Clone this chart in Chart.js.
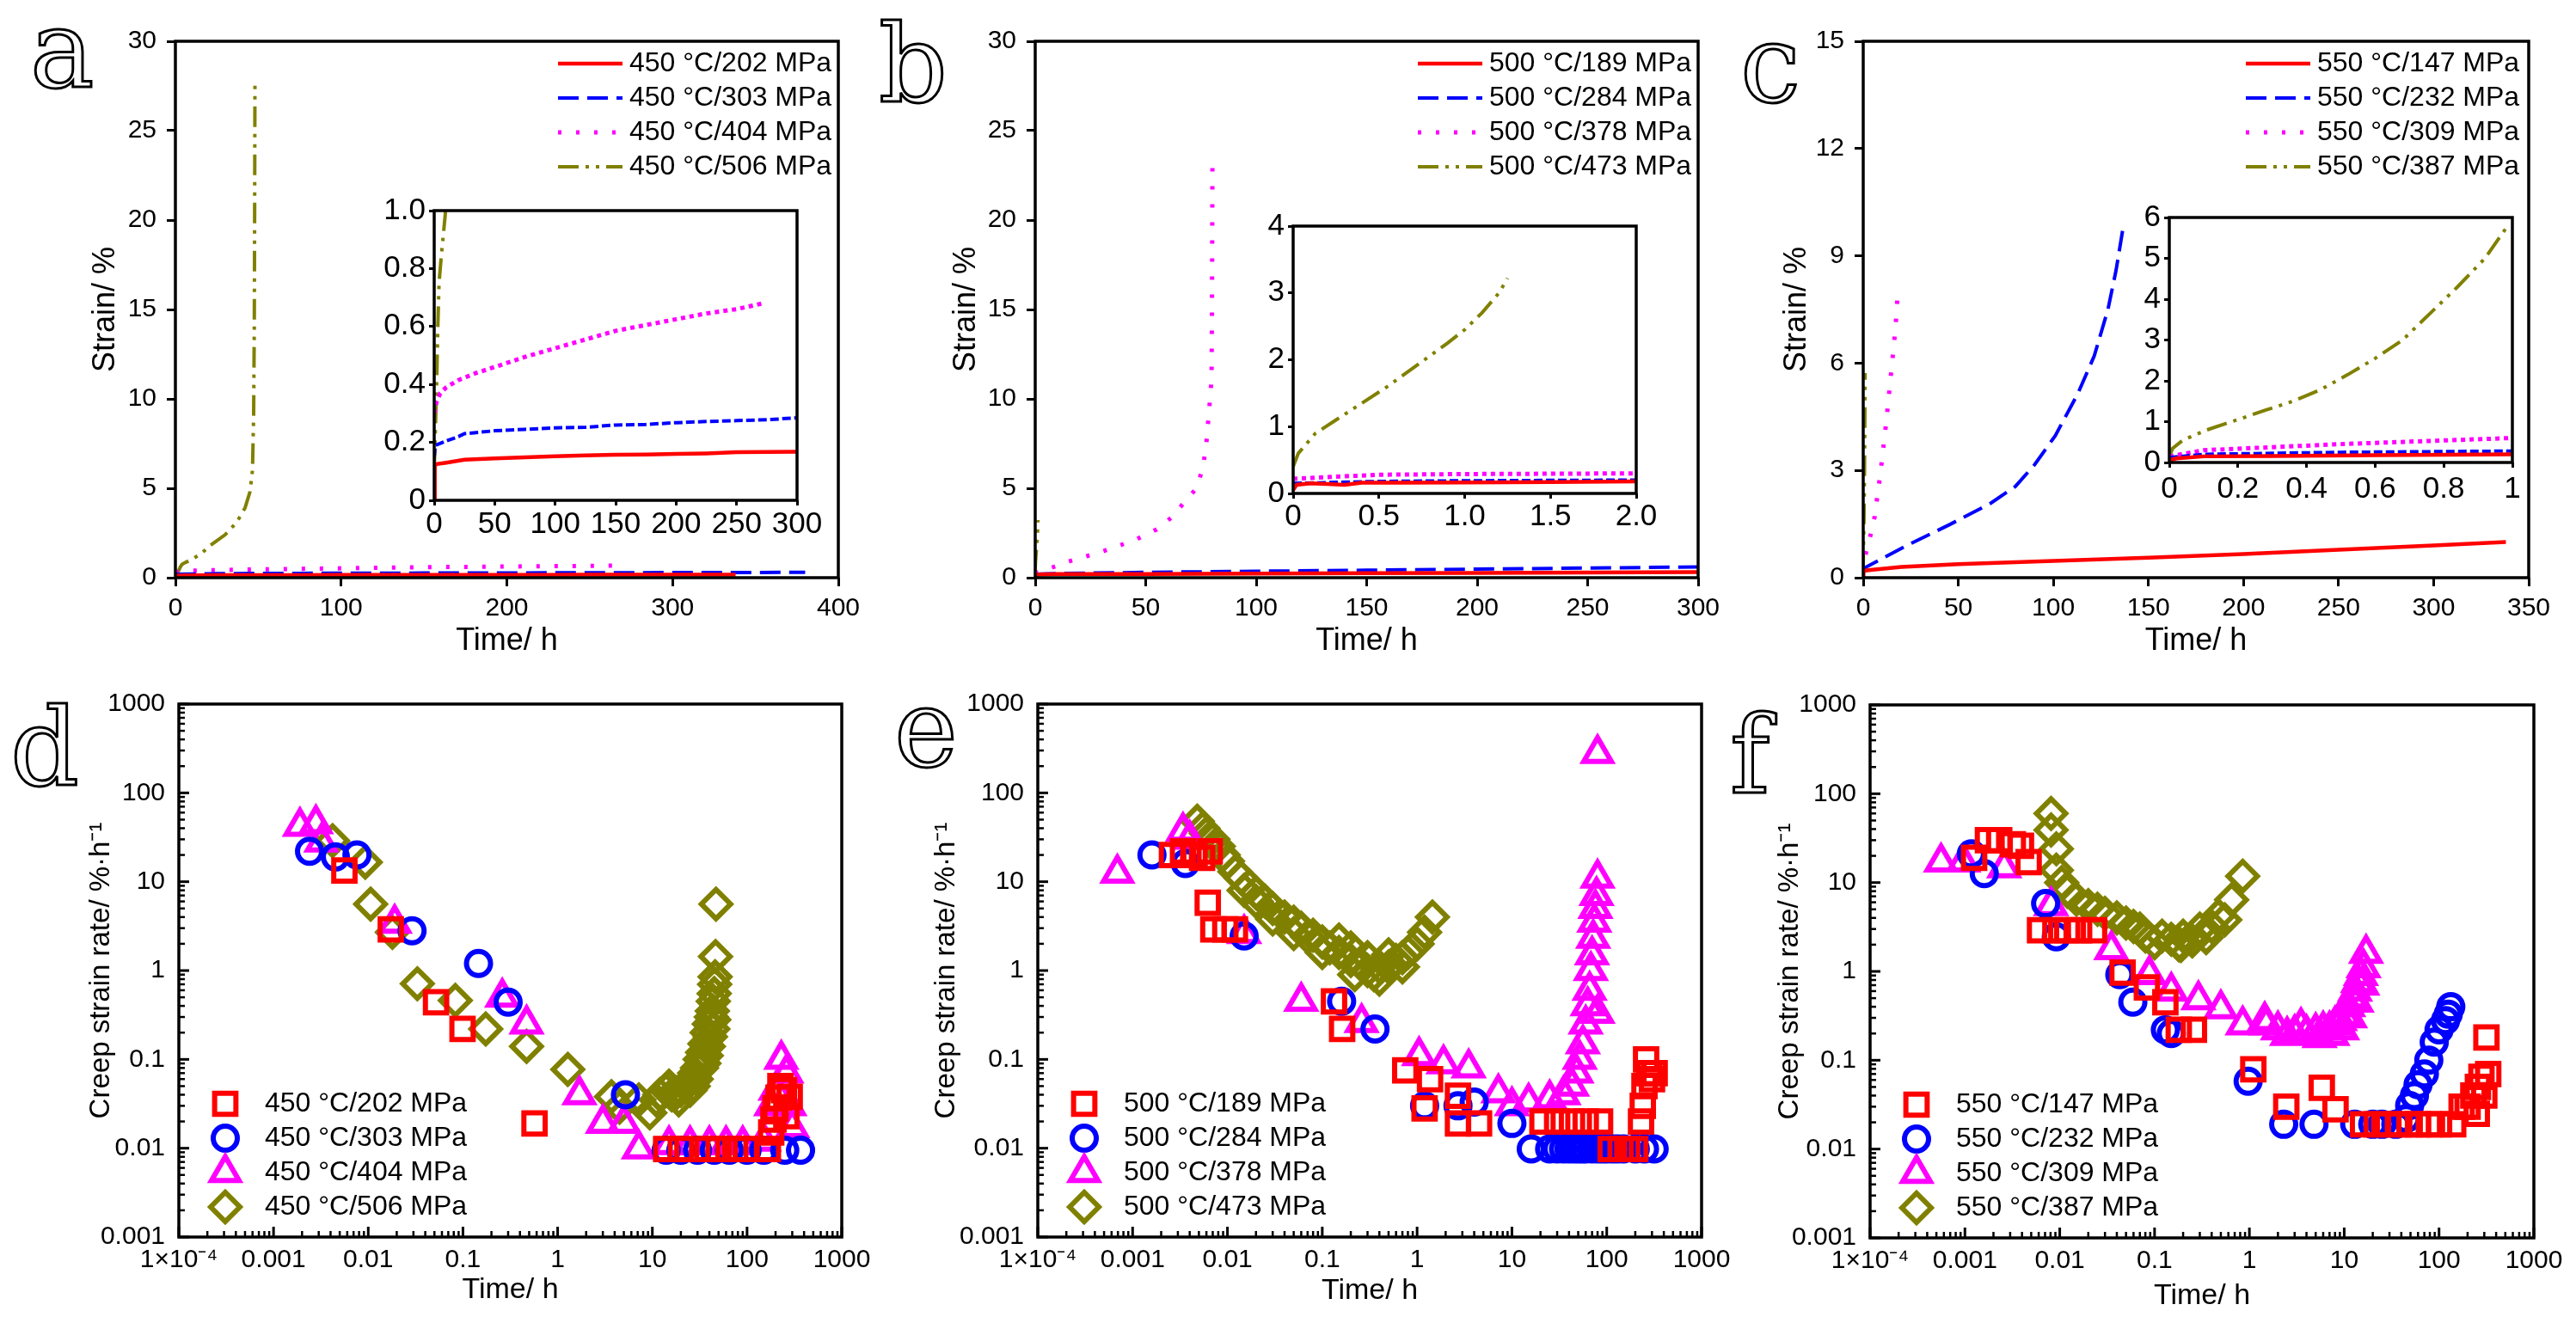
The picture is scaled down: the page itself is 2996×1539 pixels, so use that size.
<!DOCTYPE html>
<html>
<head>
<meta charset="utf-8">
<title>Creep strain and creep strain rate</title>
<script src="https://cdn.jsdelivr.net/npm/chart.js@4.4.1/dist/chart.umd.min.js"></script>
<style>
body { margin: 0; width: 2996px; height: 1539px; background: #fff; position: relative; overflow: hidden; }
canvas { position: absolute; }
.tag { position: absolute; font-family: "DejaVu Serif", serif; font-size: 125px; line-height: 1; color: #fff; -webkit-text-stroke: 3px #000; }
</style>
</head>
<body>
<div class="tag" style="left:35px;top:-5px">a</div>
<div class="tag" style="left:1022px;top:12px">b</div>
<div class="tag" style="left:2024px;top:12px">c</div>
<div class="tag" style="left:12px;top:807px">d</div>
<div class="tag" style="left:1040px;top:785px">e</div>
<div class="tag" style="left:2012px;top:816px">f</div>
<script>
// strain vs time (h), 450 °C
var a202 = [[0,0],[0.5,0.12],[2,0.125],[10,0.13],[25,0.14],[50,0.145],[75,0.148],[100,0.152],[125,0.155],[150,0.157],[175,0.158],[200,0.16],[225,0.162],[250,0.166],[275,0.167],[300,0.168],[338,0.17]];
var a303 = [[0,0.15],[1,0.19],[10,0.205],[20,0.22],[25,0.23],[50,0.24],[75,0.245],[100,0.25],[125,0.252],[150,0.26],[175,0.262],[200,0.268],[225,0.272],[250,0.275],[275,0.278],[300,0.285],[340,0.29],[380,0.3]];
var a404 = [[0,0.3],[2,0.34],[5,0.37],[10,0.39],[20,0.415],[35,0.44],[50,0.46],[75,0.495],[100,0.525],[125,0.555],[150,0.585],[175,0.605],[200,0.625],[225,0.645],[250,0.66],[272,0.68]];
var a506 = [[0,0.1],[1,0.25],[2,0.4],[3,0.6],[4,0.75],[6,0.85],[9,0.98],[15,1.3],[21,1.8],[30,2.4],[37,3.1],[42,3.9],[45,4.8],[46.5,6],[47.2,9],[47.6,14],[47.8,20],[48,27.6]];
// 500 °C
var b189 = [[0,0.05],[0.02,0.13],[0.1,0.15],[0.2,0.14],[0.3,0.13],[0.4,0.16],[0.6,0.16],[1,0.165],[1.5,0.17],[2,0.18],[10,0.2],[50,0.21],[100,0.23],[150,0.25],[200,0.27],[250,0.29],[300,0.31]];
var b284 = [[0,0.15],[0.5,0.18],[1,0.19],[2,0.2],[10,0.23],[50,0.3],[100,0.36],[150,0.42],[200,0.48],[250,0.54],[300,0.6]];
var b378 = [[0,0.22],[0.5,0.28],[1,0.29],[2,0.3],[5,0.45],[15,0.9],[30,1.45],[45,2.1],[55,2.7],[62,3.4],[68,4.3],[73,5.0],[76,6.2],[77.5,7.6],[78.8,9.5],[79.8,11.1],[80,15],[80.2,23.3]];
var b473 = [[0,0.4],[0.03,0.6],[0.13,0.9],[0.25,1.1],[0.4,1.35],[0.55,1.6],[0.75,1.97],[0.9,2.25],[1,2.45],[1.1,2.7],[1.2,3.0],[1.25,3.22]];
// 550 °C
var c147 = [[0,0.05],[0.02,0.1],[0.1,0.15],[0.3,0.16],[0.6,0.18],[1,0.2],[5,0.22],[20,0.3],[50,0.38],[100,0.47],[150,0.56],[200,0.66],[250,0.78],[300,0.9],[338,1.0]];
var c232 = [[0,0.12],[0.1,0.2],[0.5,0.25],[1,0.28],[7,0.45],[23,0.9],[46,1.5],[67,2.08],[80,2.55],[90,3.15],[101,3.97],[113,5.16],[121.5,6.2],[128.7,7.5],[133,8.6],[136.4,9.7]];
var c309 = [[0,0.15],[0.1,0.3],[0.5,0.45],[1,0.6],[3,1.0],[6,1.7],[9,2.9],[12,4.3],[15,5.9],[17,7.0],[18.2,8.0]];
var c387 = [[0,0.15],[0.01,0.35],[0.04,0.55],[0.11,0.8],[0.2,1.05],[0.28,1.28],[0.36,1.5],[0.44,1.78],[0.52,2.15],[0.6,2.55],[0.68,3.0],[0.76,3.65],[0.84,4.3],[0.92,5.0],[0.98,5.72]];

// creep strain rate (%/h) vs time (h)
var d202 = [[0.0056,13.4],[0.0173,2.9],[0.052,0.44],[0.099,0.22],[0.57,0.019],[14,0.0098],[20,0.0098],[38,0.0098],[50,0.0098],[75,0.0098],[97,0.0098],[166,0.0098],[180,0.015],[190,0.021],[200,0.028],[215,0.037],[225,0.05],[245,0.045],[260,0.023],[282,0.038]];
var d303 = [[0.0024,22],[0.0045,19],[0.0076,20],[0.029,2.8],[0.146,1.2],[0.3,0.44],[5.2,0.04],[14,0.0095],[20,0.0095],[30,0.0095],[45,0.0095],[65,0.0095],[100,0.0095],[150,0.0095],[250,0.0095],[367,0.0095]];
var d404 = [[0.0019,42],[0.0028,45],[0.0032,28],[0.019,3.4],[0.26,0.5],[0.47,0.25],[1.7,0.04],[3,0.019],[5,0.019],[7.2,0.0098],[15,0.011],[25,0.011],[40,0.011],[60,0.011],[90,0.011],[150,0.012],[180,0.03],[200,0.045],[230,0.1],[260,0.07],[280,0.03],[300,0.017]];
var d506 = [[0.0042,29],[0.0093,16.6],[0.0106,5.6],[0.018,2.7],[0.033,0.71],[0.083,0.46],[0.174,0.22],[0.47,0.14],[1.28,0.077],[3.7,0.038],[4.5,0.029],[7.2,0.035],[9.4,0.025],[11,0.035],[12,0.04],[14,0.045],[15,0.05],[16,0.04],[18,0.042],[19,0.035],[20,0.045],[22,0.05],[24,0.055],[25,0.045],[26,0.06],[27,0.05],[28,0.07],[29,0.06],[30,0.08],[32,0.1],[33,0.08],[34,0.12],[35,0.09],[36,0.15],[37,0.11],[38,0.2],[39,0.14],[40,0.25],[41,0.18],[42,0.3],[43,0.35],[43.5,0.22],[44,0.45],[44.5,0.28],[45,0.55],[45.5,0.7],[46,0.85],[46.5,1.44],[47,5.6]];

var e189 = [[0.0026,20],[0.0034,22],[0.0045,20],[0.0054,18.6],[0.0065,22],[0.0062,5.8],[0.0071,2.9],[0.0095,2.9],[0.012,2.9],[0.133,0.45],[0.162,0.22],[0.75,0.075],[1.2,0.028],[1.37,0.06],[2.7,0.039],[2.7,0.019],[4.5,0.019],[21,0.02],[30,0.02],[43,0.02],[60,0.02],[85,0.02],[110,0.0098],[140,0.0098],[165,0.0098],[200,0.0098],[230,0.02],[240,0.03],[250,0.05],[260,0.1],[280,0.07],[300,0.06],[320,0.07]];
var e284 = [[0.0016,20],[0.0036,16],[0.015,2.45],[0.16,0.45],[0.36,0.22],[1.2,0.03],[2.7,0.03],[4,0.033],[10,0.019],[16,0.0098],[25,0.0098],[30,0.0098],[35,0.0098],[40,0.0098],[45,0.0098],[50,0.0098],[55,0.0098],[60,0.0098],[70,0.0098],[80,0.0098],[90,0.0098],[100,0.0098],[115,0.0098],[130,0.0098],[150,0.0098],[200,0.0098],[250,0.0098],[316,0.0098]];
var e378 = [[0.00069,12.5],[0.0034,37],[0.004,30],[0.015,2.6],[0.06,0.45],[0.26,0.26],[1.05,0.11],[1.9,0.089],[3.5,0.08],[7.2,0.042],[10,0.03],[15,0.033],[25,0.036],[35,0.04],[43,0.05],[48,0.07],[52,0.1],[56,0.15],[60,0.25],[63,0.4],[66,0.6],[68,1.0],[70,1.5],[72,2.3],[74,3.5],[76,5],[78,7],[80,11],[80,0.33],[80,277]];
var e473 = [[0.0048,48],[0.0055,40],[0.006,35],[0.007,30],[0.008,25],[0.009,20],[0.01,17],[0.012,13],[0.014,11],[0.015,8],[0.017,9],[0.02,7.5],[0.02,6],[0.025,6],[0.03,5],[0.03,3.8],[0.04,4],[0.05,3.5],[0.05,2.6],[0.06,3],[0.07,2.4],[0.08,2.5],[0.1,2.1],[0.1,1.6],[0.12,1.8],[0.15,1.6],[0.15,2.2],[0.2,1.3],[0.2,1.8],[0.22,0.9],[0.25,1.2],[0.3,1.0],[0.3,1.4],[0.35,0.9],[0.4,1.1],[0.4,0.8],[0.5,1.1],[0.5,1.5],[0.6,1.3],[0.7,1.4],[0.7,1.1],[0.8,1.6],[1.0,2.0],[1.2,2.7],[1.45,4.0]];

var f147 = [[0.00125,19],[0.00175,30],[0.0023,30],[0.0032,27],[0.0039,26],[0.0047,17],[0.0062,2.9],[0.009,2.9],[0.012,2.9],[0.016,2.9],[0.023,2.9],[0.046,0.97],[0.083,0.66],[0.13,0.45],[0.18,0.22],[0.26,0.22],[1.1,0.079],[2.45,0.03],[5.8,0.049],[8.1,0.028],[15.8,0.019],[22,0.019],[29,0.019],[38,0.019],[49,0.019],[60,0.019],[78,0.019],[100,0.019],[141,0.019],[173,0.03],[200,0.03],[230,0.04],[257,0.05],[280,0.065],[316,0.18],[330,0.07],[300,0.04],[250,0.025]];
var f232 = [[0.00117,21],[0.0016,12.6],[0.0071,5.8],[0.0092,2.45],[0.043,0.92],[0.059,0.45],[0.13,0.22],[0.15,0.2],[0.97,0.058],[2.3,0.019],[4.8,0.019],[12.9,0.019],[20,0.019],[25,0.019],[35,0.019],[45,0.022],[49,0.031],[55,0.04],[60,0.053],[70,0.07],[78,0.1],[89,0.16],[100,0.22],[117,0.28],[125,0.33],[133,0.4]];
var f309 = [[0.00056,17],[0.00096,17],[0.0026,14.7],[0.0081,5.5],[0.035,1.76],[0.088,0.92],[0.15,0.6],[0.29,0.48],[0.5,0.38],[0.85,0.25],[1.45,0.28],[1.5,0.25],[2,0.22],[2.5,0.19],[3,0.2],[3.5,0.24],[4,0.2],[5,0.21],[5.5,0.18],[6,0.22],[7,0.22],[7.5,0.19],[8,0.25],[9,0.28],[9.5,0.22],[10,0.32],[11,0.4],[11.5,0.3],[12,0.5],[13,0.6],[13.5,0.45],[14,0.75],[15,0.9],[15.5,0.7],[16,1.1],[17,1.6]];
var f387 = [[0.0081,60],[0.0081,39],[0.0092,24],[0.0092,13.8],[0.0105,10],[0.012,8],[0.015,6.5],[0.02,5.5],[0.025,5],[0.03,4.5],[0.04,4],[0.05,3.5],[0.06,3.2],[0.07,3],[0.08,2.5],[0.1,2.1],[0.12,2.5],[0.15,2.3],[0.18,2],[0.19,1.96],[0.2,2.5],[0.25,2.2],[0.3,3],[0.35,2.4],[0.4,3.2],[0.47,4.2],[0.55,3.8],[0.65,6.4],[0.85,11.8]];

var namesA = ['450 °C/202 MPa', '450 °C/303 MPa', '450 °C/404 MPa', '450 °C/506 MPa'];
var namesB = ['500 °C/189 MPa', '500 °C/284 MPa', '500 °C/378 MPa', '500 °C/473 MPa'];
var namesC = ['550 °C/147 MPa', '550 °C/232 MPa', '550 °C/309 MPa', '550 °C/387 MPa'];

var strain30 = ['0', '5', '10', '15', '20', '25', '30'];
var strain15 = ['0', '3', '6', '9', '12', '15'];
var hours400 = ['0', '100', '200', '300', '400'];
var hours300 = ['0', '50', '100', '150', '200', '250', '300'];
var hours350 = ['0', '50', '100', '150', '200', '250', '300', '350'];
var insetAY = ['0', '0.2', '0.4', '0.6', '0.8', '1.0'];
var insetBX = ['0', '0.5', '1.0', '1.5', '2.0'];
var insetBY = ['0', '1', '2', '3', '4'];
var insetCX = ['0', '0.2', '0.4', '0.6', '0.8', '1'];
var insetCY = ['0', '1', '2', '3', '4', '5', '6'];
var rateLabels = ['0.001', '0.01', '0.1', '1', '10', '100', '1000'];
var timeLogLabels = ['1×10⁻⁴', '0.001', '0.01', '0.1', '1', '10', '100', '1000'];

var RED = '#ff0000', BLUE = '#0000ff', PINK = '#ff00ff', OLIVE = '#808000';

Chart.defaults.font.family = '"Liberation Sans", Arial, sans-serif';
Chart.defaults.color = '#000';

function isDecade(v) {
    var e = Math.log10(v);
    return Math.abs(e - Math.round(e)) < 1e-6;
}

// box around plot area, white fill for insets, inner ticks on log axes
var frame = {
    id: 'frame',
    beforeDraw: function (chart, args, o) {
        if (!o.fill) return;
        var a = chart.chartArea, ctx = chart.ctx;
        ctx.save();
        ctx.fillStyle = '#fff';
        ctx.fillRect(a.left, a.top, a.right - a.left, a.bottom - a.top);
        ctx.restore();
    },
    afterDatasetsDraw: function (chart, args, o) {
        var a = chart.chartArea, ctx = chart.ctx;
        ctx.save();
        ctx.strokeStyle = '#000';
        ['x', 'y'].forEach(function (id) {
            var s = chart.scales[id];
            if (s.type !== 'logarithmic') return;
            s.ticks.forEach(function (t) {
                var big = isDecade(t.value);
                var len = big ? 12 : 7;
                var p = s.getPixelForValue(t.value);
                ctx.lineWidth = big ? 3 : 2.5;
                ctx.beginPath();
                if (id === 'x') { ctx.moveTo(p, a.bottom); ctx.lineTo(p, a.bottom - len); }
                else { ctx.moveTo(a.left, p); ctx.lineTo(a.left + len, p); }
                ctx.stroke();
            });
        });
        ctx.lineWidth = o.width || 3.5;
        ctx.strokeRect(a.left, a.top, a.right - a.left, a.bottom - a.top);
        ctx.restore();
    }
};

// legend drawn inside the plot area
var keyBox = {
    id: 'keyBox',
    afterDraw: function (chart, args, o) {
        if (!o.show) return;
        var a = chart.chartArea, ctx = chart.ctx;
        ctx.save();
        ctx.font = '32px "Liberation Sans", Arial, sans-serif';
        ctx.textBaseline = 'middle';
        chart.data.datasets.forEach(function (ds, i) {
            var y = a.top + o.top + i * o.step;
            if (ds.showLine === false) {
                ctx.strokeStyle = ds.pointBorderColor;
                ctx.fillStyle = 'rgba(0,0,0,0)';
                ctx.lineWidth = ds.pointBorderWidth;
                Chart.helpers.drawPoint(ctx, { pointStyle: ds.pointStyle, radius: ds.pointRadius, borderWidth: ds.pointBorderWidth, rotation: 0 }, a.left + o.mark, y);
            } else {
                ctx.strokeStyle = ds.borderColor;
                ctx.lineWidth = ds.borderWidth;
                ctx.setLineDash(ds.keyDash || ds.borderDash || []);
                ctx.beginPath();
                ctx.moveTo(a.left + o.x1, y);
                ctx.lineTo(a.left + o.x2, y);
                ctx.stroke();
                ctx.setLineDash([]);
            }
            ctx.fillStyle = '#000';
            ctx.fillText(ds.label, a.left + o.text, y);
        });
        ctx.restore();
    }
};

function place(left, top, w, h) {
    var c = document.createElement('canvas');
    c.width = w;
    c.height = h;
    c.style.left = left + 'px';
    c.style.top = top + 'px';
    document.body.appendChild(c);
    return c.getContext('2d');
}

function linAxis(min, max, step, labels, o) {
    return {
        type: 'linear', min: min, max: max,
        ticks: { stepSize: step, autoSkip: false, maxRotation: 0, padding: o.pad, font: { size: o.font },
                 callback: function (v, i) { return labels[i]; } },
        grid: { drawOnChartArea: false, tickLength: o.tick, tickWidth: 3, tickColor: '#000' },
        border: { display: false },
        title: o.title ? { display: true, text: o.title, font: { size: o.titleSize }, padding: 0 } : { display: false },
        afterFit: function (s) { if (s.isHorizontal()) s.height = o.size; else s.width = o.size; }
    };
}

function logAxis(minExp, maxExp, labels, o) {
    return {
        type: 'logarithmic', min: Math.pow(10, minExp), max: Math.pow(10, maxExp),
        afterBuildTicks: function (s) {
            var t = [];
            for (var e = minExp; e <= maxExp; e++) {
                for (var m = 1; m <= 9; m++) {
                    if (e === maxExp && m > 1) break;
                    t.push({ value: m * Math.pow(10, e) });
                }
            }
            s.ticks = t;
        },
        ticks: { autoSkip: false, maxRotation: 0, padding: o.pad, font: { size: 30 },
                 callback: function (v) { return isDecade(v) ? labels[Math.round(Math.log10(v)) - minExp] : ''; } },
        grid: { drawOnChartArea: false, drawTicks: false },
        border: { display: false },
        title: { display: true, text: o.title, font: { size: o.titleSize }, padding: 0 },
        afterFit: function (s) { if (s.isHorizontal()) s.height = o.size; else s.width = o.size; }
    };
}

function curves(names, data, w, inset) {
    return [
        { label: names[0], data: data[0], borderColor: RED, borderWidth: w + 0.5, borderDash: [], pointRadius: 0, fill: false, tension: 0 },
        { label: names[1], data: data[1], borderColor: BLUE, borderWidth: w, borderDash: inset ? [10, 4] : [24, 10], keyDash: [24, 10], pointRadius: 0, fill: false, tension: 0 },
        { label: names[2], data: data[2], borderColor: PINK, borderWidth: w + 1, borderDash: inset ? [5, 5] : [4, 17], keyDash: [4, 17], pointRadius: 0, fill: false, tension: 0 },
        { label: names[3], data: data[3], borderColor: OLIVE, borderWidth: w, borderDash: [24, 8, 4, 8, 4, 8], pointRadius: 0, fill: false, tension: 0 }
    ];
}

function marks(names, data) {
    var styles = ['rect', 'circle', 'triangle', 'rectRot'];
    var colors = [RED, BLUE, PINK, OLIVE];
    var radius = [17.5, 14, 18.5, 17];
    return data.map(function (d, i) {
        return { label: names[i], data: d, showLine: false, pointStyle: styles[i], pointRadius: radius[i], pointHoverRadius: radius[i],
                 pointBorderWidth: 6, pointBorderColor: colors[i], pointBackgroundColor: 'rgba(0,0,0,0)',
                 borderColor: colors[i], backgroundColor: 'rgba(0,0,0,0)' };
    });
}

function panel(type, g, sets, x, y, key) {
    var ctx = place(g.L - g.yw, g.T - g.pt, g.yw + g.R - g.L + g.pr, g.pt + g.B - g.T + g.xh);
    return new Chart(ctx, {
        type: type,
        data: { datasets: sets },
        options: {
            responsive: false, animation: false, events: [],
            layout: { padding: { top: g.pt, right: g.pr, left: 0, bottom: 0 } },
            plugins: { legend: { display: false }, tooltip: { enabled: false }, keyBox: key || { show: false }, frame: { fill: !!g.fill } },
            scales: { x: x, y: y }
        },
        plugins: [frame, keyBox]
    });
}

var lineKey = { show: true, x1: 445, x2: 520, text: 528, top: 26, step: 40 };
var markKey = { show: true, mark: 54, text: 100, top: 465, step: 40 };

// top row: strain curves
var xTop = { pad: 8, tick: 10, font: 30, title: 'Time/ h', titleSize: 36, size: 96 };
function yTop(w) { return { pad: 12, tick: 10, font: 30, title: 'Strain/ %', titleSize: 36, size: w }; }

panel('line', { L: 204, R: 975, T: 48, B: 672, yw: 103, xh: 96, pt: 30, pr: 50 },
    curves(namesA, [a202, a303, a404, a506], 4),
    linAxis(0, 400, 100, hours400, xTop), linAxis(0, 30, 5, strain30, yTop(103)), lineKey);
panel('line', { L: 1204, R: 1975, T: 48, B: 672, yw: 102, xh: 96, pt: 30, pr: 50 },
    curves(namesB, [b189, b284, b378, b473], 4),
    linAxis(0, 300, 50, hours300, xTop), linAxis(0, 30, 5, strain30, yTop(102)), lineKey);
panel('line', { L: 2167, R: 2941, T: 48, B: 672, yw: 99, xh: 96, pt: 30, pr: 50 },
    curves(namesC, [c147, c232, c309, c387], 4),
    linAxis(0, 350, 50, hours350, xTop), linAxis(0, 15, 3, strain15, yTop(99)), lineKey);

// insets
function inX(pad) { return { pad: pad, tick: 6, font: 35, size: 55 }; }
var inY = { pad: 4, tick: 6, font: 35, size: 70 };
panel('line', { L: 505, R: 927, T: 245, B: 582, yw: 70, xh: 55, pt: 25, pr: 40, fill: true },
    curves(namesA, [a202, a303, a404, a506], 4, true),
    linAxis(0, 300, 50, hours300, inX(1)), linAxis(0, 1, 0.2, insetAY, inY));
panel('line', { L: 1504, R: 1903, T: 263, B: 574, yw: 70, xh: 55, pt: 25, pr: 40, fill: true },
    curves(namesB, [b189, b284, b378, b473], 4, true),
    linAxis(0, 2, 0.5, insetBX, inX(0)), linAxis(0, 4, 1, insetBY, inY));
panel('line', { L: 2523, R: 2922, T: 253, B: 538, yw: 70, xh: 55, pt: 25, pr: 30, fill: true },
    curves(namesC, [c147, c232, c309, c387], 4, true),
    linAxis(0, 1, 0.2, insetCX, inX(4)), linAxis(0, 6, 1, insetCY, inY));

// bottom row: creep strain rate
function xLog(h) { return { pad: 9, title: 'Time/ h', titleSize: 34, size: h }; }
function yLog(w) { return { pad: 16, title: 'Creep strain rate/ %·h⁻¹', titleSize: 33, size: w }; }

panel('scatter', { L: 208, R: 979, T: 815, B: 1439, yw: 110, xh: 82, pt: 30, pr: 50 },
    marks(namesA, [d202, d303, d404, d506]),
    logAxis(-4, 3, timeLogLabels, xLog(82)), logAxis(-3, 3, rateLabels, yLog(110)), markKey);
panel('scatter', { L: 1207, R: 1979, T: 815, B: 1439, yw: 126, xh: 83, pt: 30, pr: 50 },
    marks(namesB, [e189, e284, e378, e473]),
    logAxis(-4, 3, timeLogLabels, xLog(83)), logAxis(-3, 3, rateLabels, yLog(126)), markKey);
panel('scatter', { L: 2175, R: 2947, T: 816, B: 1440, yw: 113, xh: 88, pt: 30, pr: 45 },
    marks(namesC, [f147, f232, f309, f387]),
    logAxis(-4, 3, timeLogLabels, xLog(88)), logAxis(-3, 3, rateLabels, yLog(113)), markKey);
</script>
</body>
</html>
